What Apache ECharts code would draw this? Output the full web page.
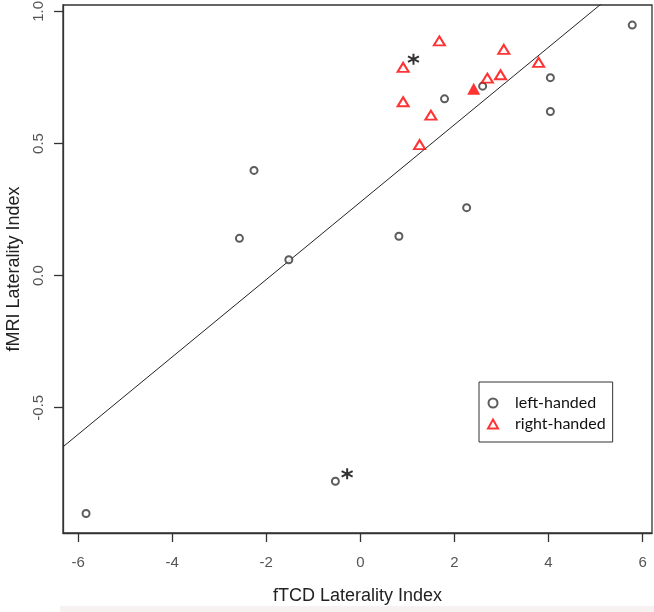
<!DOCTYPE html>
<html lang="en">
<head>
    <meta charset="UTF-8">
    <title>fTCD vs fMRI</title>
    <script src="https://cdn.jsdelivr.net/npm/echarts@6/dist/echarts.min.js"></script>
    <style>
        html, body {margin: 0; padding: 0; background: #fff;}
        #main {width: 654px; height: 612px;}
    </style>
</head>
<body>
<div id="main"></div>

<script>
    // left-handed subjects (open circles)
    var leftX = [-5.83, -2.57, -2.26, -1.52, -0.53, 0.82, 1.79, 2.26, 2.60, 4.04, 4.04, 5.78];
    var leftY = [-0.900, 0.141, 0.398, 0.060, -0.778, 0.149, 0.669, 0.257, 0.717, 0.749, 0.621, 0.948];

    // right-handed subjects (open triangles)
    var rightX = [0.91, 0.91, 1.26, 1.50, 1.68, 2.70, 2.98, 3.05, 3.79];
    var rightY = [0.788, 0.658, 0.496, 0.607, 0.888, 0.747, 0.760, 0.856, 0.807];

    // highlighted right-handed subject (filled triangle)
    var filledX = [2.41];
    var filledY = [0.707];

    // asterisk markers
    var starX = [1.13, -0.28];
    var starY = [0.819, -0.750];

    // regression line y = a + b*x
    var lineA = 0.278;
    var lineB = 0.1465;

    var xTicks = [-6, -4, -2, 0, 2, 4, 6];
    var yTicks = [-0.5, 0, 0.5, 1.0];
    var xMin = -6.32, xMax = 6.2;
    var yMin = -0.974, yMax = 1.024;

    function pairs(xs, ys) {
        var out = [];
        for (var i = 0; i < xs.length; i++) out.push([xs[i], ys[i]]);
        return out;
    }

    var myChart = echarts.init(document.getElementById('main'));

    var option = {
        animation: false,
        backgroundColor: '#fff',
        textStyle: {fontFamily: 'Liberation Sans, Arial, sans-serif'},
        grid: {
            left: 63, right: 2, top: 5, bottom: 79,
            containLabel: false, outerBoundsMode: 'none',
            show: true, borderColor: '#333', borderWidth: 1.3
        },
        legend: {
            orient: 'vertical',
            left: 479, top: 382,
            data: ['left-handed', 'right-handed'],
            borderColor: '#333', borderWidth: 1,
            padding: [13, 7, 10, 8],
            itemWidth: 10, itemHeight: 9, itemGap: 5,
            textStyle: {fontFamily: 'Lato', fontSize: 16, color: '#111', padding: [0, 0, 0, 12]}
        },
        xAxis: {
            type: 'value', min: xMin, max: xMax,
            name: 'fTCD Laterality Index', nameLocation: 'middle', nameGap: 54,
            nameTextStyle: {fontSize: 18, color: '#222'},
            splitLine: {show: false},
            axisLine: {show: true, onZero: false, lineStyle: {color: '#333', width: 1.3}},
            axisTick: {show: true, length: 9, customValues: xTicks, lineStyle: {color: '#333', width: 1.3}},
            axisLabel: {customValues: xTicks, margin: 22, fontSize: 15, color: '#555'}
        },
        yAxis: {
            type: 'value', min: yMin, max: yMax,
            name: 'fMRI Laterality Index', nameLocation: 'middle', nameGap: 37, nameRotate: 90,
            nameTextStyle: {fontSize: 18, color: '#222'},
            splitLine: {show: false},
            axisLine: {show: true, onZero: false, lineStyle: {color: '#333', width: 1.3}},
            axisTick: {show: true, length: 9, customValues: yTicks, lineStyle: {color: '#333', width: 1.3}},
            axisLabel: {
                customValues: yTicks, margin: 17, fontSize: 15, color: '#555', rotate: 90,
                formatter: function (v) { return v.toFixed(1); }
            }
        },
        graphic: [{
            type: 'rect', left: 60, top: 606,
            shape: {width: 594, height: 6},
            style: {fill: '#f8f1f1'}
        }],
        series: [
            {
                name: 'regression', type: 'line', symbol: 'none', clip: true,
                data: [[xMin, lineA + lineB * xMin], [xMax, lineA + lineB * xMax]],
                lineStyle: {color: '#222', width: 1},
                silent: true, z: 1
            },
            {
                name: 'left-handed', type: 'scatter',
                symbol: 'emptyCircle', symbolSize: 7,
                itemStyle: {color: '#333', borderWidth: 0.9},
                data: pairs(leftX, leftY), z: 3
            },
            {
                name: 'right-handed', type: 'scatter',
                symbol: 'emptyTriangle', symbolSize: [11, 9],
                itemStyle: {color: '#f00', borderWidth: 1.1},
                data: pairs(rightX, rightY), z: 3
            },
            {
                name: 'filled', type: 'scatter',
                symbol: 'triangle', symbolSize: [13, 12],
                itemStyle: {color: '#f00'},
                data: pairs(filledX, filledY), z: 3
            },
            {
                name: 'star', type: 'scatter',
                symbol: 'path://M5 0 L5 10 M0.67 2.5 L9.33 7.5 M0.67 7.5 L9.33 2.5',
                symbolSize: 11,
                itemStyle: {color: 'none', borderColor: '#000', borderWidth: 2},
                data: pairs(starX, starY), z: 3
            }
        ]
    };

    myChart.setOption(option);
</script>
</body>
</html>
